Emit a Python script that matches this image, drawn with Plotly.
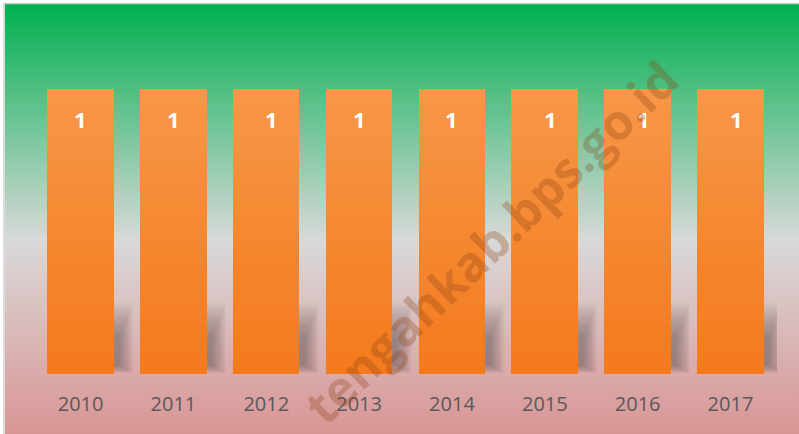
import base64
import plotly.graph_objects as go

# ---- data ----
years = ["2010", "2011", "2012", "2013", "2014", "2015", "2016", "2017"]
values = [1, 1, 1, 1, 1, 1, 1, 1]
watermark = "tengahkab.bps.go.id"

# ---- styling ----
W, H = 799, 434
label_xshift = [0, 0, 5.5, 0, 0, 6, 6, 6.5]  # label nudges seen in the reference
bar_top_rgb = (247, 151, 72)
bar_bot_rgb = (244, 122, 28)
N_SLICES = 40
BAR_W = 0.716

fig = go.Figure()

# soft shadows (stacked translucent layers to imitate blur), derived from values
n_layers = 20
for k in range(n_layers):
    t = k / (n_layers - 1)
    y0 = [v * (0.03 - 0.027 * t) for v in values]
    y1 = [v * (0.13 + 0.12 * t) for v in values]
    right = BAR_W / 2 + 0.06 + 0.15 * t
    fig.add_trace(go.Bar(
        x=years, y=[b - a for a, b in zip(y0, y1)], base=y0,
        width=right, offset=0.0,
        marker=dict(color="rgba(70,30,35,0.019)", line=dict(width=0)),
        hoverinfo="skip", showlegend=False,
    ))

# gradient bars built from horizontal slices of each value
for s in range(N_SLICES):
    f = (s + 0.5) / N_SLICES
    c = tuple(round(bar_bot_rgb[i] + (bar_top_rgb[i] - bar_bot_rgb[i]) * f) for i in range(3))
    fig.add_trace(go.Bar(
        x=years, y=[v / N_SLICES for v in values],
        base=[v * s / N_SLICES for v in values],
        width=BAR_W,
        marker=dict(color="rgb(%d,%d,%d)" % c, line=dict(width=0)),
        hoverinfo="skip", showlegend=False,
    ))

# data labels (x given as category index so year strings are not read as numbers)
annotations = []
for i, v in enumerate(values):
    annotations.append(dict(
        x=i, y=v, xref="x", yref="y", text="<b>%d</b>" % v, showarrow=False,
        yanchor="middle", yshift=-30, xshift=label_xshift[i],
        font=dict(family="Open Sans", size=22, color="white"),
    ))

# watermark
annotations.append(dict(
    x=490 / W, y=1 - 242 / H, xref="paper", yref="paper", text="<b>%s</b>" % watermark,
    showarrow=False, textangle=-44, xanchor="center", yanchor="middle",
    font=dict(family="Open Sans", size=49, color="rgba(140,65,20,0.30)"),
))

# background gradient as svg image
svg = (
    "<svg xmlns='http://www.w3.org/2000/svg' width='794' height='430' preserveAspectRatio='none' viewBox='0 0 794 430'>"
    "<defs><linearGradient id='g' x1='0' y1='0' x2='0' y2='1'>"
    "<stop offset='0' stop-color='#00b050'/>"
    "<stop offset='0.55' stop-color='#d9d9d9'/>"
    "<stop offset='1' stop-color='#d99594'/>"
    "</linearGradient></defs>"
    "<rect x='0' y='0' width='794' height='430' fill='url(#g)'/></svg>"
)
src = "data:image/svg+xml;base64," + base64.b64encode(svg.encode()).decode()

# plot geometry: value 0 -> y=374px, value 1 -> y=89px; category centers 80.6 .. 730.5
ymax = 1.2
px_per_unit = 285
y_bottom_px = 374
y_top_px = y_bottom_px - ymax * px_per_unit
step = (730.5 - 80.6) / 7
x_left = 80.6 - step / 2
x_right = 730.5 + step / 2

fig.update_layout(
    width=W, height=H,
    margin=dict(l=0, r=0, t=0, b=0),
    paper_bgcolor="white", plot_bgcolor="rgba(0,0,0,0)",
    barmode="overlay", bargap=0,
    showlegend=False,
    xaxis=dict(
        domain=[x_left / W, x_right / W], range=[-0.5, 7.5], type="category",
        showgrid=False, zeroline=False, showline=False, ticks="",
        tickfont=dict(family="Open Sans", size=20, color="#595959"),
        ticklabelstandoff=16, fixedrange=True,
    ),
    yaxis=dict(
        domain=[(H - y_bottom_px) / H, (H - y_top_px) / H], range=[0, ymax],
        visible=False, showgrid=False, zeroline=False, fixedrange=True,
    ),
    images=[dict(
        source=src, xref="paper", yref="paper",
        x=5 / W, y=1 - 4 / H, sizex=(W - 5) / W, sizey=(H - 4) / H,
        xanchor="left", yanchor="top", sizing="stretch", layer="below",
    )],
    shapes=[
        dict(type="line", xref="paper", yref="paper", x0=4 / W, x1=4 / W, y0=0, y1=1 - 3 / H,
             line=dict(color="#d0d0d0", width=1.5)),
        dict(type="line", xref="paper", yref="paper", x0=4 / W, x1=1, y0=1 - 3.5 / H, y1=1 - 3.5 / H,
             line=dict(color="#d0d0d0", width=1.5)),
    ],
    annotations=annotations,
)

fig.write_html(
    "out.html",
    config={"displayModeBar": False},
    post_script="document.body.style.margin='0';document.body.style.overflow='hidden';",
)
